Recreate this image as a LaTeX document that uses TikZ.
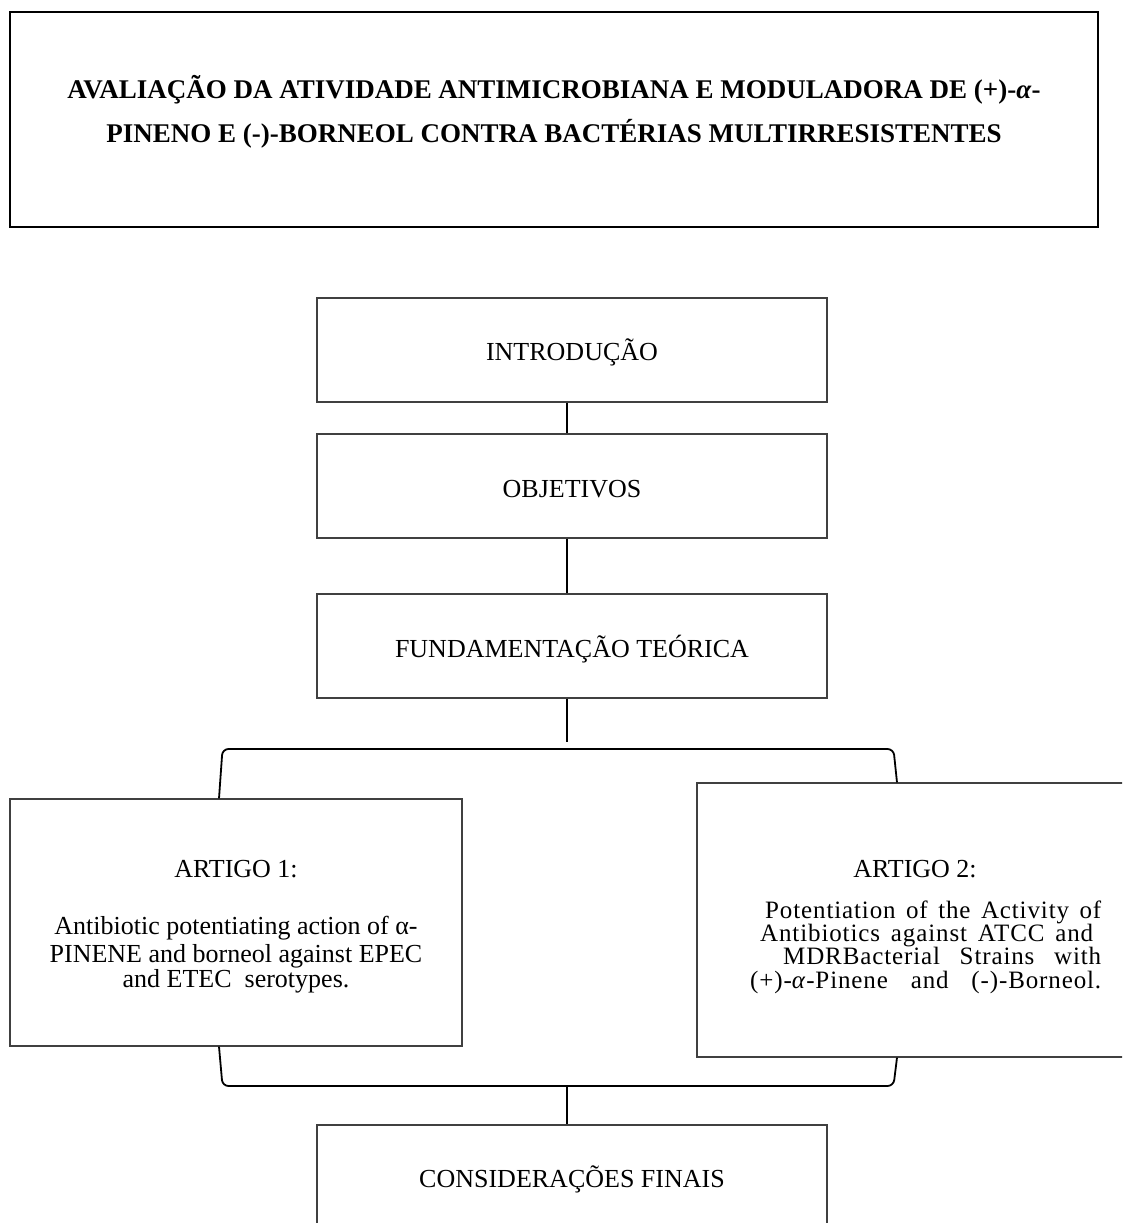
\documentclass[tikz,border=0pt]{standalone}
\usepackage{fontspec}
\setmainfont{Liberation Serif}
\begin{document}
\begin{tikzpicture}[x=1pt,y=-1pt,
  box/.style={draw=black!75, line width=1.2pt, inner sep=0pt, fill=none},
  conn/.style={draw=black, line width=1.6pt},
  bracepath/.style={draw=black, line width=1.8pt, rounded corners=6pt},
  txt/.style={inner sep=0pt, anchor=base, font=\fontsize{26}{30}\selectfont},
  ttl/.style={inner sep=0pt, anchor=base, font=\fontsize{27}{30}\selectfont\bfseries}]
\useasboundingbox (0,0) rectangle (1122,1223);
\clip (0,0) rectangle (1122,1223);
% title
\node[box, draw=black, minimum width=1088pt, minimum height=215pt] (title) at (554,119.5) {};
\node[ttl] (t1) at (554,99) {AVALIAÇÃO DA ATIVIDADE ANTIMICROBIANA E MODULADORA DE (+)-\textit{α}-};
\node[ttl] (t2) at (554,142) {PINENO E (-)-BORNEOL CONTRA BACTÉRIAS MULTIRRESISTENTES};
% main column
\coordinate (axis) at (567,0);
\node[box, minimum width=510pt, minimum height=104pt] (intro) at (572,350) {};
\node[txt] (introt) at (572,360) {INTRODUÇÃO};
\node[box, minimum width=510pt, minimum height=104pt] (obj) at (572,486) {};
\node[txt] (objt) at (572,497) {OBJETIVOS};
\node[box, minimum width=510pt, minimum height=104pt] (fund) at (572,646) {};
\node[txt] (fundt) at (572,657) {FUNDAMENTAÇÃO TEÓRICA};
\node[box, minimum width=510pt, minimum height=104pt] (cons) at (572,1177) {};
\node[txt] (const) at (572,1187) {CONSIDERAÇÕES FINAIS};
% articles
\node[box, minimum width=452pt, minimum height=247pt] (art1) at (236,922.5) {};
\node[txt] (a1h) at (236,877) {ARTIGO 1:};
\node[txt] (a1l1) at (236,934) {Antibiotic potentiating action of α-};
\node[txt] (a1l2) at (236,962) {PINENE and borneol against EPEC};
\node[txt] (a1l3) at (236,987) {and ETEC\ \ serotypes.};
\node[box, minimum width=438pt, minimum height=274pt] (art2) at (916,920) {};
\node[txt] (a2h) at (915,877) {ARTIGO 2:};
\node[inner sep=0pt, anchor=base west, font=\fontsize{25}{23.4}\selectfont\addfontfeature{LetterSpace=3.5}] (a2body) at (750,918)
  {\vtop{\baselineskip=23.4pt\lineskiplimit=-100pt\lineskip=0pt
   \hbox{\kern15pt\makebox[336pt][s]{Potentiation of the Activity of}}
   \hbox{\kern10pt\makebox[333pt][s]{Antibiotics against ATCC and}}
   \hbox{\kern33pt\makebox[318pt][s]{MDRBacterial Strains with}}
   \hbox{\makebox[351pt][s]{(+)-\textit{α}-Pinene and (-)-Borneol.}}}};
% connectors
\coordinate (fundend) at (567,742);
\coordinate (bl) at (219,0);
\coordinate (br) at (897,0);
\draw[conn] (intro.south -| axis) -- (obj.north -| axis);
\draw[conn] (obj.south -| axis) -- (fund.north -| axis);
\draw[conn] (fund.south -| axis) -- (fundend);
\draw[bracepath] (art1.north -| bl) -- (222.5,749) -- (893.5,749) -- (art2.north -| br);
\draw[bracepath] (art1.south -| bl) -- (222.5,1086) -- (893.5,1086) -- (art2.south -| br);
\draw[conn] (567,1086) -- (cons.north -| axis);
\end{tikzpicture}
\end{document}
